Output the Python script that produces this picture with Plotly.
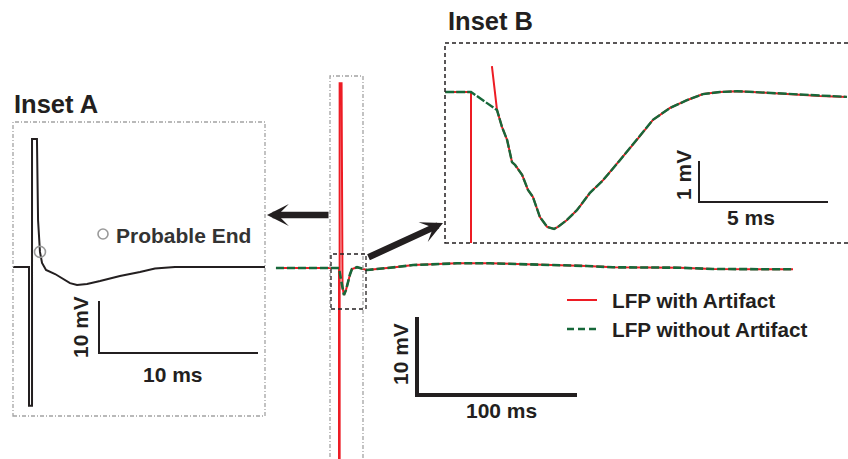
import plotly.graph_objects as go

# ---------------- data (time in ms relative to stimulus, potential in mV) ----------------
# main recording
main_t = [-39.4, 0, 1.25, 2.5, 3.1, 4.4, 5.6, 6.9, 8.1, 11.25, 17.5, 25.6, 36.25, 46.25,
          63.1, 73.75, 94.4, 115, 136.25, 155, 171.25, 192.5, 213.1, 233.75, 255, 283.75]
main_without = [0, 0, -1.5, -3.1, -3.46, -2.8, -1.8, -0.8, -0.13, 0.1, -0.26, -0.13, 0.13, 0.38,
                0.51, 0.6, 0.6, 0.51, 0.38, 0.26, 0.09, 0.09, 0.04, -0.13, -0.17, -0.17]
main_art_t = [0, 0.4, 0.4, 1.6, 2.2]
main_art_v = [-30, -30, 23.7, 23.7, -2.5]

# inset A (raw trace with artifact, zoomed)
insetA_t = [-1.0, 0, 0, 0.19, 0.19, 0.5, 0.57, 0.69, 0.82, 1.07, 1.64, 2.08, 2.58, 3.02,
            3.65, 4.47, 5.72, 6.98, 7.92, 9.18, 14.84]
insetA_v = [0, 0, -26.7, -26.7, 24.6, 24.6, 9.0, 2.9, 0.77, -0.58, -1.35, -2.1, -3.1, -3.46,
            -3.27, -2.7, -1.73, -0.96, -0.3, 0, 0]
probable_end_t = [0.69]
probable_end_v = [2.9]

# inset B (evoked response, zoomed)
insetB_t = [-1.0, 0, 1.008, 1.20, 1.40, 1.59, 1.71, 1.98, 2.21, 2.40, 2.67, 2.95, 3.22, 3.37,
            3.72, 4.11, 4.61, 5.12, 5.78, 6.43, 7.05, 7.71, 8.37, 8.99, 9.65, 10.31, 10.93,
            12.25, 13.53, 14.57]
insetB_without = [0, 0, -0.44, -0.85, -1.17, -1.71, -1.78, -2.02, -2.39, -2.56, -3.05, -3.29,
                  -3.34, -3.29, -3.12, -2.88, -2.46, -2.15, -1.66, -1.17, -0.68, -0.39, -0.20,
                  -0.05, 0, 0.02, 0, -0.05, -0.10, -0.12]
insetB_art_t = [0, None, 0.81]
insetB_art_v = [-30, None, 0.63]

series_names = ["LFP with Artifact", "LFP without Artifact"]

# traces with artifact = pre-stimulus part + artifact + remaining response
main_with_t = main_t[:2] + main_art_t + main_t[4:]
main_with_v = main_without[:2] + main_art_v + main_without[4:]
insetB_with_t = insetB_t[:2] + insetB_art_t + insetB_t[2:]
insetB_with_v = insetB_without[:2] + insetB_art_v + insetB_without[2:]

# ---------------- styling ----------------
W, H = 848, 459
RED = "#ED1C24"
GREEN = "#17683A"
GRAY = "#A3A3A3"
INK = "#231F20"
FONT = "Liberation Sans, Arial, sans-serif"


def px(x):
    return x / W


def py(y):
    return 1 - y / H


fig = go.Figure()

# main panel
fig.add_trace(go.Scatter(x=main_with_t, y=main_with_v, mode="lines", name=series_names[0],
                         line=dict(color=RED, width=2), xaxis="x", yaxis="y"))
fig.add_trace(go.Scatter(x=main_t, y=main_without, mode="lines", name=series_names[1],
                         line=dict(color=GREEN, width=2.6, dash="8px,3px"), xaxis="x", yaxis="y"))
# inset A
fig.add_trace(go.Scatter(x=insetA_t, y=insetA_v, mode="lines", name="Inset A",
                         line=dict(color=INK, width=2), xaxis="x2", yaxis="y2"))
fig.add_trace(go.Scatter(x=probable_end_t, y=probable_end_v, mode="markers", name="Probable End",
                         marker=dict(symbol="circle-open", size=11, color="#9A9A9A",
                                     line=dict(width=1.6, color="#9A9A9A")),
                         xaxis="x2", yaxis="y2"))
# inset B
fig.add_trace(go.Scatter(x=insetB_with_t, y=insetB_with_v, mode="lines", name=series_names[0],
                         line=dict(color=RED, width=2), xaxis="x3", yaxis="y3"))
fig.add_trace(go.Scatter(x=insetB_t, y=insetB_without, mode="lines", name=series_names[1],
                         line=dict(color=GREEN, width=2.4, dash="9px,2px"), xaxis="x3", yaxis="y3"))

# axis geometry (pixel layout of each panel)
# main: stimulus at x=339 px, baseline y=268 px, 1.6 px/ms, 7.8 px/mV
m_x0, m_y0, m_sx, m_sy = 339, 268, 1.6, 7.8
# inset A: box 13..265 x 122..416, stimulus x=29, baseline y=267, 15.9 px/ms, 5.2 px/mV
a_box = (13, 265, 122, 416)
a_x0, a_y0, a_sx, a_sy = 29, 267, 15.9, 5.2
# inset B: box 445..848 x 43..243, stimulus x=471, baseline y=92, 25.8 px/ms, 41 px/mV
b_box = (445, 848, 43, 243)
b_x0, b_y0, b_sx, b_sy = 471, 92, 25.8, 41.0

hidden = dict(visible=False, fixedrange=True, showgrid=False, zeroline=False)
fig.update_layout(
    xaxis=dict(domain=[0, 1], range=[(0 - m_x0) / m_sx, (W - m_x0) / m_sx], anchor="y", **hidden),
    yaxis=dict(domain=[0, 1], range=[(m_y0 - H) / m_sy, m_y0 / m_sy], anchor="x", **hidden),
    xaxis2=dict(domain=[px(a_box[0]), px(a_box[1])],
                range=[(a_box[0] - a_x0) / a_sx, (a_box[1] - a_x0) / a_sx], anchor="y2", **hidden),
    yaxis2=dict(domain=[py(a_box[3]), py(a_box[2])],
                range=[(a_y0 - a_box[3]) / a_sy, (a_y0 - a_box[2]) / a_sy], anchor="x2", **hidden),
    xaxis3=dict(domain=[px(b_box[0]), px(b_box[1])],
                range=[(b_box[0] - b_x0) / b_sx, (b_box[1] - b_x0) / b_sx], anchor="y3", **hidden),
    yaxis3=dict(domain=[py(b_box[3]), py(b_box[2])],
                range=[(b_y0 - b_box[3]) / b_sy, (b_y0 - b_box[2]) / b_sy], anchor="x3", **hidden),
)

shapes = []
# inset A frame (gray dash-dot)
shapes.append(dict(type="rect", xref="paper", yref="paper", x0=px(13), x1=px(265), y0=py(416),
                   y1=py(122), line=dict(color=GRAY, width=1.3, dash="4px,2px,1px,2px")))
# gray frame around stimulus artifact in main panel
shapes.append(dict(type="rect", xref="paper", yref="paper", x0=px(330), x1=px(363), y0=py(470),
                   y1=py(76), line=dict(color=GRAY, width=1.3, dash="4px,2px,1px,2px")))
# small dashed frame around the evoked response
shapes.append(dict(type="rect", xref="paper", yref="paper", x0=px(331), x1=px(366), y0=py(309),
                   y1=py(254), line=dict(color=INK, width=1.3, dash="4px,3px")))
# inset B frame
shapes.append(dict(type="rect", xref="paper", yref="paper", x0=px(445), x1=px(851), y0=py(243),
                   y1=py(43), line=dict(color=INK, width=1.5, dash="4px,3px")))

# scale bars (in each panel's data units)
def scale_bar(xr, yr, t0, v0, dt, dv, width):
    return dict(type="path", xref=xr, yref=yr,
                path=f"M {t0},{v0 + dv} L {t0},{v0} L {t0 + dt},{v0}",
                line=dict(color=INK, width=width))

shapes.append(scale_bar("x", "y", (417 - m_x0) / m_sx, (m_y0 - 395) / m_sy, 100, 10, 4))
shapes.append(scale_bar("x2", "y2", (99 - a_x0) / a_sx, (a_y0 - 353) / a_sy, 10, 10, 2))
shapes.append(scale_bar("x3", "y3", (699 - b_x0) / b_sx, (b_y0 - 202) / b_sy, 5, 1, 2))

# legend samples
shapes.append(dict(type="line", xref="paper", yref="paper", x0=px(567), x1=px(597), y0=py(300),
                   y1=py(300), line=dict(color=RED, width=2)))
shapes.append(dict(type="line", xref="paper", yref="paper", x0=px(567), x1=px(597), y0=py(329),
                   y1=py(329), line=dict(color=GREEN, width=2.6, dash="7px,4px")))
# "Probable End" key circle
shapes.append(dict(type="circle", xref="paper", yref="paper", x0=px(98), x1=px(108), y0=py(239),
                   y1=py(229), line=dict(color="#9A9A9A", width=1.6)))

annotations = []


def label(text, x, y, size, anchor="center", angle=0, color=INK):
    annotations.append(dict(text=f"<b>{text}</b>", x=px(x), y=py(y), xref="paper", yref="paper",
                            showarrow=False, xanchor=anchor, yanchor="middle", textangle=angle,
                            font=dict(family=FONT, size=size, color=color)))


label("Inset A", 12, 104, 25.5, anchor="left")
label("Inset B", 446, 21, 25.5, anchor="left")
label("Probable End", 114, 235, 21, anchor="left", color="#333333")
label("10 mV", 80, 327, 21, angle=-90)
label("10 ms", 173, 374, 21)
label("1 mV", 683, 175, 21, angle=-90)
label("5 ms", 751, 218, 21)
label("10 mV", 400, 354, 21, angle=-90)
label("100 ms", 502, 410, 21)
label(series_names[0], 610, 300, 20.7, anchor="left")
label(series_names[1], 610, 329, 20.7, anchor="left")

# arrows
for tip, tail in [((267, 215), (330, 215)), ((443, 223), (367, 258))]:
    annotations.append(dict(x=px(tip[0]), y=py(tip[1]), xref="paper", yref="paper", text="",
                            showarrow=True, ax=tail[0] - tip[0], ay=tail[1] - tip[1],
                            axref="pixel", ayref="pixel", arrowhead=3, arrowsize=0.56,
                            arrowwidth=6.5, arrowcolor=INK, standoff=0))

fig.update_layout(
    width=W, height=H, margin=dict(l=0, r=0, t=0, b=0),
    paper_bgcolor="white", plot_bgcolor="rgba(0,0,0,0)",
    showlegend=False, shapes=shapes, annotations=annotations,
    font=dict(family=FONT, color=INK),
)

fig.write_html("out.html", config={"displayModeBar": False})
